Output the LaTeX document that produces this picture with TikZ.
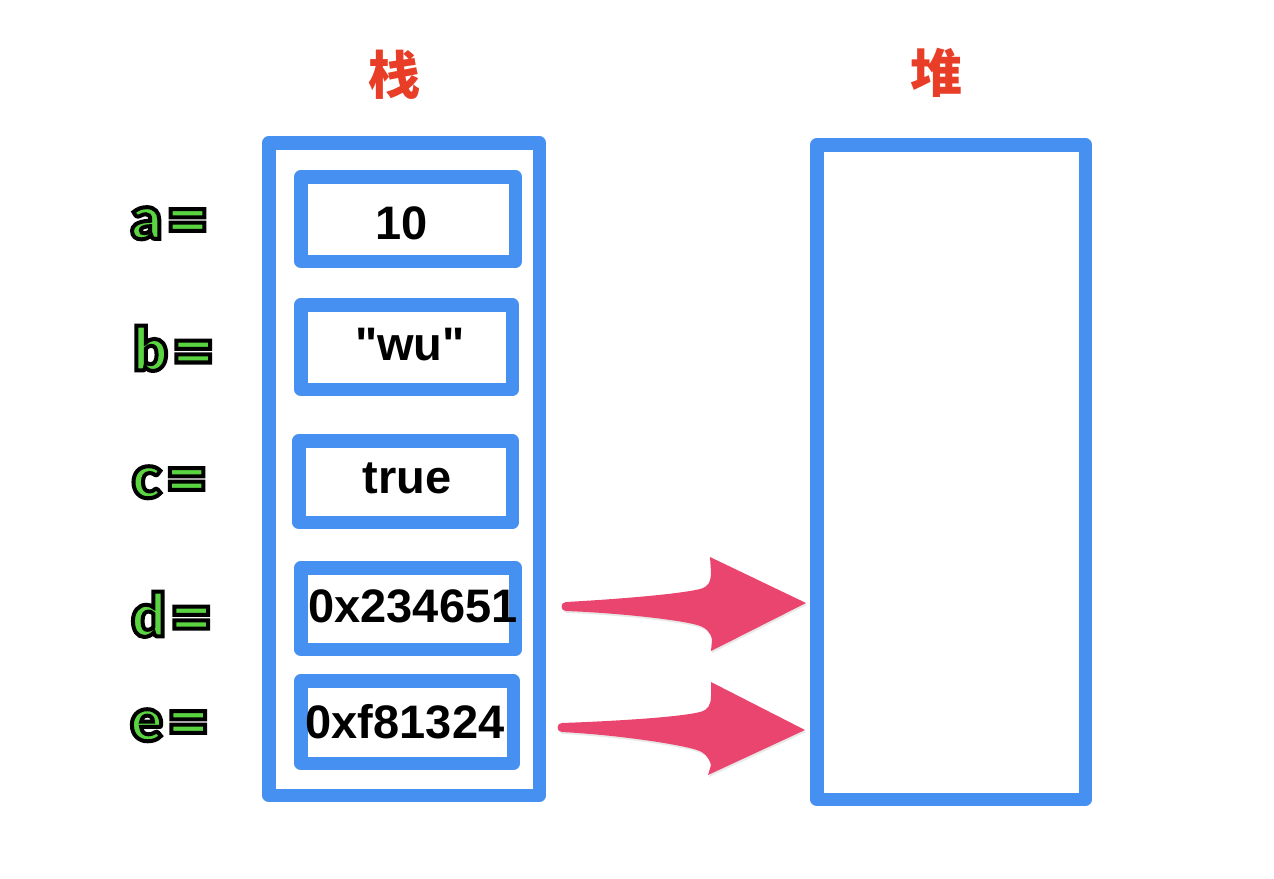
\documentclass[tikz,border=0pt]{standalone}
\usepackage{fontspec}
\usetikzlibrary{shadows}
\setmainfont{Liberation Sans}[Ligatures=TeXOff]
\newfontfamily\lblfont{Lato Black}
\newfontfamily\cjk{Noto Sans CJK SC}
\definecolor{boxblue}{RGB}{70,144,242}
\definecolor{arrowpink}{RGB}{234,69,110}
\definecolor{lblgreen}{RGB}{90,212,65}
\definecolor{titlered}{RGB}{232,62,40}
% outlined text: stroke colour, stroke width, text
\newcommand\olntext[3]{\special{pdf:literal #1 RG #2 w 2 Tr}#3\special{pdf:literal 0 Tr}}
\newcommand\lbl[1]{\olntext{0 0 0}{4}{#1\hspace{4pt}\raisebox{-6pt}{\fontsize{74}{80}\selectfont=}}}
\tikzset{
  memframe/.style={draw=boxblue, line width=13.5pt, line join=round, inner sep=0pt},
  valbox/.style={draw=boxblue, line width=13.5pt, line join=round, inner sep=0pt},
  valtext/.style={inner sep=0pt, font=\fontsize{47}{56}\selectfont\bfseries, text=black},
  varlabel/.style={inner sep=0pt, font=\lblfont\fontsize{60}{70}\selectfont, text=lblgreen},
  titletext/.style={inner sep=0pt, font=\cjk\fontsize{52}{60}\selectfont\bfseries, text=titlered},
  pointer/.style={fill=arrowpink, drop shadow={opacity=0.18, shadow xshift=1pt, shadow yshift=-2pt}}
}
\begin{document}
\begin{tikzpicture}[x=1pt,y=-1pt]
\useasboundingbox (0,0) rectangle (1274,878);
% titles
\node[titletext] (tstack) at (394,75) {栈};
\node[titletext] (theap) at (936,73) {堆};
% outer frames
\node[memframe, minimum width=270.5pt, minimum height=652.5pt] (stack) at (404,469) {};
\node[memframe, minimum width=268.5pt, minimum height=654.5pt] (heap) at (951,472) {};
% value boxes
\node[valbox, minimum width=214.5pt, minimum height=84.5pt] (boxa) at (408,219) {};
\node[valbox, minimum width=211.5pt, minimum height=84.5pt] (boxb) at (406.5,347) {};
\node[valbox, minimum width=213.5pt, minimum height=81.5pt] (boxc) at (405.5,481.5) {};
\node[valbox, minimum width=214.5pt, minimum height=81.5pt] (boxd) at (408,608.5) {};
\node[valbox, minimum width=212.5pt, minimum height=82.5pt] (boxe) at (407,722) {};
% values
\node[valtext] (va) at (401.5,223) {10};
\node[valtext] (vb) at (410,345) {"wu"};
\node[valtext] (vc) at (407,478) {true};
\node[valtext] (vd) at (413,606) {0x234651};
\node[valtext] (ve) at (405,722) {0xf81324};
% labels
\node[varlabel] (la) at (170,226) {\lbl{a}};
\node[varlabel] (lb) at (174,351) {\lbl{b}};
\node[varlabel] (lc) at (170,485) {\lbl{c}};
\node[varlabel] (ld) at (172,617) {\lbl{d}};
\node[varlabel] (le) at (170,728) {\lbl{e}};
% pointer arrows
\coordinate (dtail) at (562,606);
\coordinate (etail) at (558,727);
\begin{scope}[shift={(dtail)}]
\fill[pointer] (4,-4) .. controls (58,-7) and (118,-12) .. (138,-17) .. controls (146,-19) and (149,-24) .. (149,-34) -- (148,-49) -- (244,-3) -- (149,45) -- (150,34) .. controls (149,26) and (143,21) .. (135,19) .. controls (118,14) and (58,7) .. (4,5) .. controls (-2,5) and (-2,-4) .. (4,-4) -- cycle;
\end{scope}
\begin{scope}[shift={(etail)}]
\fill[pointer] (4,-4) .. controls (60,-6) and (122,-10) .. (142,-15) .. controls (150,-17) and (153,-22) .. (153,-31) -- (153,-45) -- (247,3) -- (150,48) -- (153,38) .. controls (151,30) and (146,25) .. (139,23) .. controls (120,17) and (60,8) .. (4,5) .. controls (-2,5) and (-2,-4) .. (4,-4) -- cycle;
\end{scope}
\end{tikzpicture}
\end{document}
